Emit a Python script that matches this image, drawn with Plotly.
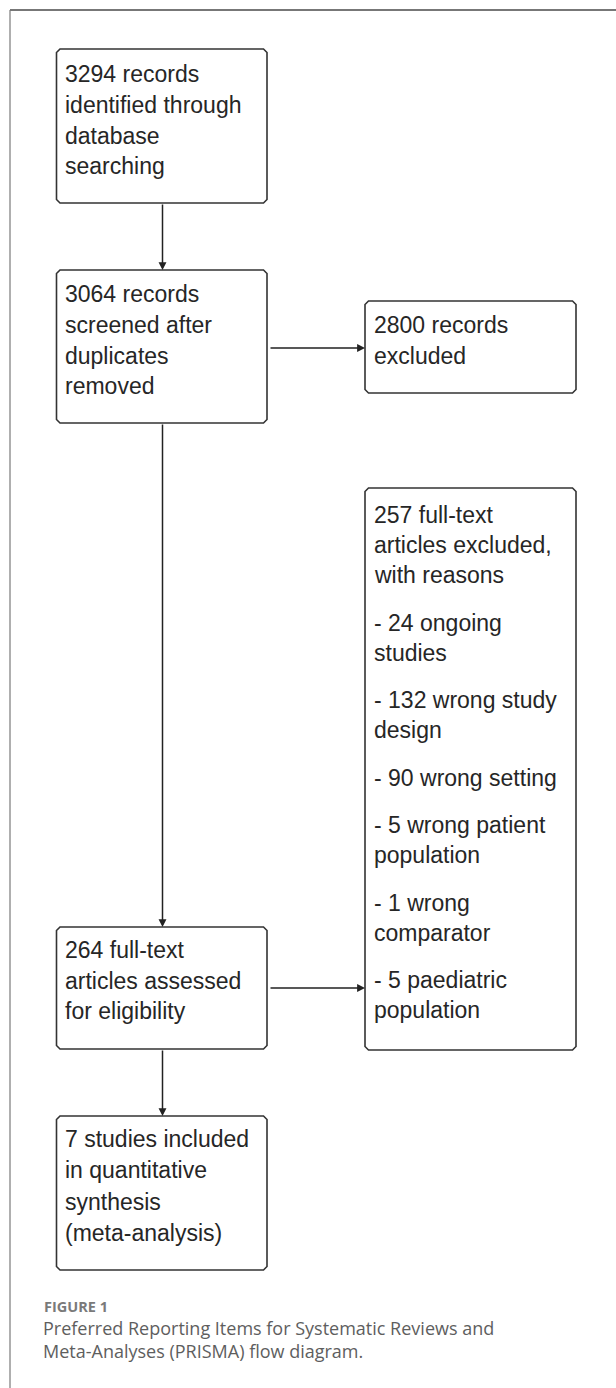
import plotly.graph_objects as go

# ---------------- data ----------------
n_identified = 3294
n_screened = 3064
n_excluded = 2800
n_fulltext = 264
n_ft_excluded = 257
n_included = 7

reason_counts = [24, 132, 90, 5, 1, 5]
reason_lines = [
    ["ongoing", "studies"],
    ["wrong study", "design"],
    ["wrong setting"],
    ["wrong patient", "population"],
    ["wrong", "comparator"],
    ["paediatric", "population"],
]

box_identified = [f"{n_identified} records", "identified through", "database", "searching"]
box_screened = [f"{n_screened} records", "screened after", "duplicates", "removed"]
box_excluded = [f"{n_excluded} records", "excluded"]
box_fulltext = [f"{n_fulltext} full-text", "articles assessed", "for eligibility"]
box_included = [f"{n_included} studies included", "in quantitative", "synthesis", "(meta-analysis)"]
excl_header = [f"{n_ft_excluded} full-text", "articles excluded,", "with reasons"]

caption_label = "FIGURE 1"
caption_lines = [
    "Preferred Reporting Items for Systematic Reviews and",
    "Meta-Analyses (PRISMA) flow diagram.",
]

# ---------------- layout constants ----------------
W, H = 616, 1388
FS = 23
FONT = "Liberation Sans"
TXT = "#262626"
EDGE = "#333333"

# paragraphs of the exclusion-reasons box
excl_paragraphs = [excl_header]
for c, lines in zip(reason_counts, reason_lines):
    excl_paragraphs.append([f"- {c} {lines[0]}"] + lines[1:])

# boxes: (x0, x1, y0, y1, first baseline, pitch, paragraphs, paragraph gap)
LX0, LX1 = 56.5, 267
RX0, RX1 = 365, 576
boxes = [
    (LX0, LX1, 49, 203, 82, 30.8, [box_identified], 0),
    (LX0, LX1, 270, 423, 302, 30.8, [box_screened], 0),
    (RX0, RX1, 301, 393, 333, 30.6, [box_excluded], 0),
    (LX0, LX1, 927, 1049, 958, 30.5, [box_fulltext], 0),
    (RX0, RX1, 488, 1050, 523, 30.0, excl_paragraphs, 17.5),
    (LX0, LX1, 1116, 1270, 1147, 31.4, [box_included], 0),
]

shapes = []
annotations = []


def box_path(x0, x1, y0, y1, r=3.5):
    return (f"M{x0+r},{y0} L{x1-r},{y0} L{x1},{y0+r} L{x1},{y1-r} "
            f"L{x1-r},{y1} L{x0+r},{y1} L{x0},{y1-r} L{x0},{y0+r} Z")


# outer frame (top and left)
shapes.append(dict(type="line", xref="x", yref="y", x0=10, y0=10, x1=W, y1=10,
                   line=dict(color="#4a4a4a", width=1.3)))
shapes.append(dict(type="line", xref="x", yref="y", x0=10, y0=10, x1=10, y1=H,
                   line=dict(color="#7a7a7a", width=1.2)))

MID = 0.3465 * FS  # baseline -> bbox centre offset for Liberation Sans

for (x0, x1, y0, y1, b0, pitch, paras, pgap) in boxes:
    shapes.append(dict(type="path", xref="x", yref="y", path=box_path(x0, x1, y0, y1),
                       line=dict(color=EDGE, width=1.6), fillcolor="white", layer="below"))
    b = b0
    for pi, para in enumerate(paras):
        if pi > 0:
            b += pgap
        for li, line in enumerate(para):
            if pi > 0 or li > 0:
                b += pitch
            annotations.append(dict(
                x=x0 + 8.5, y=b - MID, xref="x", yref="y", text=line, showarrow=False,
                xanchor="left", yanchor="middle", borderpad=0, borderwidth=0,
                font=dict(family=FONT, size=FS, color=TXT)))

# arrows
AX = 162.5
arrow_specs = [
    (AX, 203, AX, 270),
    (AX, 423, AX, 927),
    (AX, 1049, AX, 1116),
    (269, 348, RX0, 348),
    (269, 988, RX0, 988),
]
for (sx, sy, tx, ty) in arrow_specs:
    annotations.append(dict(
        x=tx, y=ty, ax=sx, ay=sy, xref="x", yref="y", axref="x", ayref="y",
        text="", showarrow=True, arrowhead=2, arrowsize=1.05, arrowwidth=1.5,
        arrowcolor="#222222", standoff=0, startstandoff=0))

# caption
CAP_FONT = "Open Sans"
CAP_FS = 18
annotations.append(dict(
    x=44, y=1311.7 - 0.388 * 14.5, xref="x", yref="y", text=f"<b>{caption_label}</b>",
    showarrow=False, xanchor="left", yanchor="middle", borderpad=0, borderwidth=0,
    font=dict(family=CAP_FONT, size=14.5, color="#7a7a7a")))
for i, line in enumerate(caption_lines):
    annotations.append(dict(
        x=43, y=1335 + 22.5 * i - 0.388 * CAP_FS, xref="x", yref="y", text=line,
        showarrow=False, xanchor="left", yanchor="middle", borderpad=0, borderwidth=0,
        font=dict(family=CAP_FONT, size=CAP_FS, color="#5e5e5e")))

fig = go.Figure()
fig.add_trace(go.Scatter(x=[0, W], y=[0, H], mode="markers",
                         marker=dict(opacity=0), hoverinfo="skip", showlegend=False))
fig.update_layout(
    width=W, height=H, margin=dict(l=0, r=0, t=0, b=0),
    paper_bgcolor="white", plot_bgcolor="white",
    xaxis=dict(range=[0, W], visible=False, fixedrange=True),
    yaxis=dict(range=[H, 0], visible=False, fixedrange=True),
    shapes=shapes, annotations=annotations, showlegend=False,
)
fig.write_html(
    "out.html",
    config={"displayModeBar": False},
    post_script="document.body.style.margin='0';document.body.style.overflow='hidden';",
)
